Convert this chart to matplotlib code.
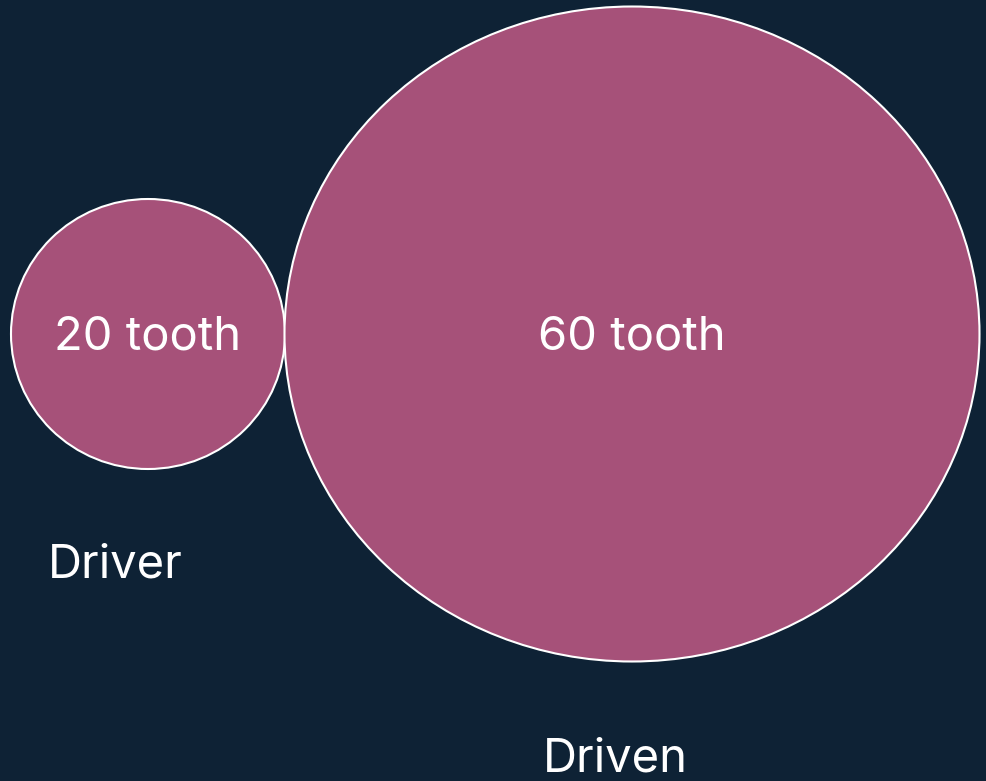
import matplotlib.pyplot as plt
from matplotlib.patches import Ellipse

# gear data
teeth = [20, 60]
roles = ["Driver", "Driven"]
centers_x = [148, 632]
center_y = 334
widths = [274, 695]
heights = [270, 655]
role_pos = [(115, 563), (615, 757)]

BG = "#0e2235"
FILL = "#a65179"

plt.rcParams['font.family'] = ['Inter', 'DejaVu Sans']

fig = plt.figure(figsize=(9.86, 7.81), dpi=100, facecolor=BG)
ax = fig.add_axes([0, 0, 1, 1])
ax.set_facecolor(BG)
ax.set_xlim(0, 986)
ax.set_ylim(781, 0)
ax.axis('off')

for cx, w, h, t in zip(centers_x, widths, heights, teeth):
    ax.add_patch(Ellipse((cx, center_y), w, h, facecolor=FILL,
                         edgecolor='white', linewidth=1.5))
    ax.text(cx, center_y + 3, f"{t} tooth", color='white', fontsize=34,
            ha='center', va='center')

for (x, y), r in zip(role_pos, roles):
    ax.text(x, y + 3, r, color='white', fontsize=34, ha='center',
            va='center')

fig.savefig('out.png', dpi=100, facecolor=BG)
